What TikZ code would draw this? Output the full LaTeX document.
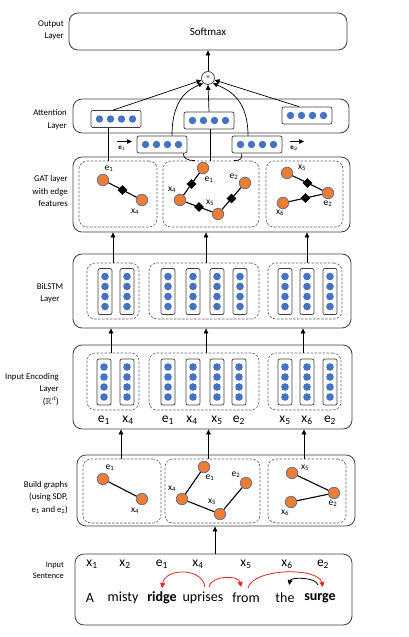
\documentclass[tikz,border=0pt]{standalone}
\usepackage{fontspec}
\setmainfont{Carlito}
\usepackage{amssymb}
\usetikzlibrary{arrows.meta,shapes.geometric,calc}
\definecolor{dotblue}{HTML}{4472C4}
\definecolor{nodeorange}{HTML}{ED7D31}
\definecolor{nodeedge}{HTML}{5B6B9E}
\definecolor{boxline}{HTML}{404040}
\definecolor{arcred}{HTML}{E8241C}
\newcommand{\HVec}[3]{\node[hvec] (#1) at (#2,#3) {};
  \foreach \d in {-16.5,-5.5,5.5,16.5} {\fill[dotc] ($(#1.center)+(\d,0)$) circle (3.7pt);}}
\newcommand{\VVec}[3]{\node[vvec] (#1) at (#2,#3) {};
  \foreach \d in {-15,-5,5,15} {\fill[dotc] ($(#1.center)+(0,\d)$) circle (3.8pt);}}
\begin{document}
\begin{tikzpicture}[x=1pt,y=-1pt,
  layerbox/.style={draw=boxline, line width=0.8pt, rounded corners=9pt, inner sep=0},
  dashbox/.style={draw=boxline!85, line width=0.6pt, rounded corners=8pt, dash pattern=on 2.5pt off 1.5pt, inner sep=0},
  hvec/.style={draw=boxline, line width=0.7pt, rounded corners=2pt, minimum width=50pt, minimum height=17pt, inner sep=0},
  vvec/.style={draw=boxline, line width=0.7pt, rounded corners=2pt, minimum width=14pt, minimum height=46pt, inner sep=0},
  dotc/.style={fill=dotblue},
  gnode/.style={circle, fill=nodeorange, draw=nodeedge, line width=0.7pt, minimum size=11.5pt, inner sep=0},
  efeat/.style={diamond, fill=black, minimum size=10pt, inner sep=0},
  gedge/.style={line width=1.1pt},
  arr/.style={-{Triangle[length=5pt,width=4.5pt]}, line width=0.7pt},
  plain/.style={line width=0.7pt},
  lbl/.style={font=\fontsize{8.8}{12.5}\selectfont, align=right, anchor=east, inner sep=0},
  glbl/.style={font=\fontsize{9.5}{11}\selectfont, inner sep=0},
  toklbl/.style={font=\fontsize{13.5}{15}\selectfont, inner sep=0},
  wordlbl/.style={font=\fontsize{14}{16}\selectfont, inner sep=0},
  redarc/.style={draw=arcred, line width=0.8pt, -{Triangle[length=5pt,width=5pt]}},
  blackarc/.style={draw=black, line width=0.8pt, -{Triangle[length=5pt,width=5pt]}}
]
\useasboundingbox (0,0) rectangle (408,637);

% ---------- left labels ----------
\node[lbl] (lout) at (64,30.5) {Output\\Layer};
\node[lbl] (latt) at (67,119.5) {Attention\\Layer};
\node[lbl] (lgat) at (68,191) {GAT layer\\with edge\\features};
\node[lbl, anchor=center, align=center] (lbil) at (50,293) {BiLSTM\\Layer};
\node[lbl] (lenc) at (59,389.5) {Input Encoding\\Layer\\($\mathbb{R}^d$)};
\node[lbl] (lbuild) at (68,497.5) {Build graphs\\(using SDP,\\e\textsubscript{1} and e\textsubscript{2})};
\node[lbl, font=\fontsize{8.3}{11}\selectfont] (lsent) at (64,570.5) {Input\\Sentence};

% ---------- output layer ----------
\node[layerbox, minimum width=278pt, minimum height=37pt, font=\fontsize{11}{13}\selectfont] (out) at (208,31.5) {Softmax};
\node[circle, draw=boxline, line width=0.7pt, minimum size=13pt, inner sep=0, font=\fontsize{7}{8}\selectfont] (plus) at (208,78) {+};
\draw[arr] (plus.north) -- (plus.north |- out.south);

% ---------- attention layer ----------
\node[layerbox, minimum width=276pt, minimum height=34pt] (att) at (211,116) {};
\HVec{a1}{116}{119}
\HVec{a2}{209}{120.5}
\HVec{a3}{307}{115.5}
\HVec{b1}{162}{144.5}
\HVec{b2}{257}{144.5}
\node[inner sep=0, font=\fontsize{7}{8}\selectfont] (arl1) at (122,148.5) {$\mathbf{e}_1$};
\node[inner sep=0, font=\fontsize{7}{8}\selectfont] (arl2) at (294,148.5) {$\mathbf{e}_2$};
\draw[arr, line width=0.6pt] ($(arl1)+(-5,-7)$) -- ($(arl1)+(10,-7)$);
\draw[arr, line width=0.6pt] ($(arl2)+(-4,-7)$) -- ($(arl2)+(10,-7)$);

\draw[arr] ([xshift=-3pt]a1.north) -- (plus);
\draw[arr] (a2.north) -- (plus.south);
\draw[arr] ([xshift=-8pt]a3.north) -- (plus);
\draw[arr] ([xshift=10pt]b1.north) .. controls +(0,-40) and +(-12,6) .. (plus.225);
\draw[arr] ([xshift=-9pt]b2.north) .. controls +(0,-40) and +(12,6) .. (plus.315);

% ---------- GAT layer ----------
\node[layerbox, minimum width=277pt, minimum height=75pt] (gat) at (211.5,194.5) {};
\node[dashbox, minimum width=78pt, minimum height=66pt] (gd1) at (118,194) {};
\node[dashbox, minimum width=96pt, minimum height=66pt] (gd2) at (211,194) {};
\node[dashbox, minimum width=77pt, minimum height=66pt] (gd3) at (304.5,194) {};

\draw[plain] ([xshift=-8pt]a1.south) -- ([xshift=-8pt]a1.south |- gd1.north);
\draw[plain] ([xshift=1pt]a2.south) -- ([xshift=1pt]a2.south |- gd2.north);
\coordinate (c1) at (195,160.5);
\coordinate (c2) at (234,160.5);
\draw[plain] ([xshift=-4pt]b1.south east) .. controls +(0,5) and +(-8,0) .. (c1);
\draw[plain] ([xshift=10pt]b2.south west) .. controls +(0,5) and +(8,0) .. (c2);

\node[gnode] (ge1) at (103,180) {};
\node[gnode] (gx4) at (142,200) {};
\node[gnode] (ge1b) at (203,168) {};
\node[gnode] (gx4b) at (180,200) {};
\node[gnode] (gx5b) at (218,214) {};
\node[gnode] (ge2b) at (245,183) {};
\node[gnode] (gx5c) at (287,173) {};
\node[gnode] (gx6c) at (283,203) {};
\node[gnode] (ge2c) at (328,193) {};
\draw[gedge] (ge1) -- (gx4) node[efeat, midway] (gf1) {};
\draw[gedge] (gx4b) -- (ge1b) node[efeat, midway] (gf2) {};
\draw[gedge] (gx4b) -- (gx5b) node[efeat, midway] (gf3) {};
\draw[gedge] (gx5b) -- (ge2b) node[efeat, midway] (gf4) {};
\draw[gedge] (gx5c) -- (ge2c) node[efeat, midway] (gf5) {};
\draw[gedge] (gx6c) -- (ge2c) node[efeat, midway] (gf6) {};
\node[glbl] (tge1) at (109,169) {e\textsubscript{1}};
\node[glbl] (tgx4) at (135,212) {x\textsubscript{4}};
\node[glbl] (tge1b) at (209,180) {e\textsubscript{1}};
\node[glbl] (tge2b) at (234,177) {e\textsubscript{2}};
\node[glbl] (tgx4b) at (172,190) {x\textsubscript{4}};
\node[glbl] (tgx5b) at (210,203) {x\textsubscript{5}};
\node[glbl] (tgx5c) at (302,168) {x\textsubscript{5}};
\node[glbl] (tge2c) at (328,204) {e\textsubscript{2}};
\node[glbl] (tgx6c) at (280,213) {x\textsubscript{6}};

% ---------- BiLSTM layer ----------
\node[layerbox, minimum width=278pt, minimum height=74pt] (bil) at (212,291) {};
\node[dashbox, minimum width=52pt, minimum height=56pt] (bd1) at (113,291) {};
\node[dashbox, minimum width=110pt, minimum height=56pt] (bd2) at (204,291) {};
\node[dashbox, minimum width=74pt, minimum height=56pt] (bd3) at (305,291) {};
\VVec{bv1}{105}{291.5}
\VVec{bv2}{127}{291.5}
\VVec{bv3}{168}{291.5}
\VVec{bv4}{193}{291.5}
\VVec{bv5}{217}{291.5}
\VVec{bv6}{240}{291.5}
\VVec{bv7}{285}{291.5}
\VVec{bv8}{307}{291.5}
\VVec{bv9}{330}{291.5}
\draw[arr] (bd1.north) -- (bd1.north |- gat.south);
\draw[arr] ([xshift=2pt]bd2.north) -- ([xshift=2pt]bd2.north |- gat.south);
\draw[arr] ([xshift=2pt]bd3.north) -- ([xshift=2pt]bd3.north |- gat.south);

% ---------- input encoding layer ----------
\node[layerbox, minimum width=279pt, minimum height=84pt] (enc) at (212.5,387) {};
\node[dashbox, minimum width=52pt, minimum height=57pt] (ed1) at (113,381.5) {};
\node[dashbox, minimum width=110pt, minimum height=57pt] (ed2) at (204,381.5) {};
\node[dashbox, minimum width=73pt, minimum height=57pt] (ed3) at (304.5,381.5) {};
\VVec{ev1}{104}{382}
\VVec{ev2}{127}{382}
\VVec{ev3}{168}{382}
\VVec{ev4}{193}{382}
\VVec{ev5}{217}{382}
\VVec{ev6}{239}{382}
\VVec{ev7}{285}{382}
\VVec{ev8}{307}{382}
\VVec{ev9}{330}{382}
\node[toklbl] (te1) at (104,420) {e\textsubscript{1}};
\node[toklbl] (tx4) at (128,420) {x\textsubscript{4}};
\node[toklbl] (te1b) at (168,420) {e\textsubscript{1}};
\node[toklbl] (tx4b) at (192,420) {x\textsubscript{4}};
\node[toklbl] (tx5b) at (217,420) {x\textsubscript{5}};
\node[toklbl] (te2b) at (239,420) {e\textsubscript{2}};
\node[toklbl] (tx5c) at (285,420) {x\textsubscript{5}};
\node[toklbl] (tx6c) at (307,420) {x\textsubscript{6}};
\node[toklbl] (te2c) at (330,420) {e\textsubscript{2}};
\draw[arr] ([xshift=-2pt]ed1.north) -- ([xshift=-2pt]ed1.north |- bil.south);
\draw[arr] ([xshift=2pt]ed2.north) -- ([xshift=2pt]ed2.north |- bil.south);
\draw[arr] ([xshift=-1.5pt]ed3.north) -- ([xshift=-1.5pt]ed3.north |- bil.south);

% ---------- build graphs ----------
\node[layerbox, minimum width=278pt, minimum height=71pt] (build) at (216,490.5) {};
\node[dashbox, minimum width=78pt, minimum height=64pt] (gb1) at (122,491) {};
\node[dashbox, minimum width=95pt, minimum height=64pt] (gb2) at (212.5,491) {};
\node[dashbox, minimum width=78pt, minimum height=64pt] (gb3) at (307,491) {};
\node[gnode] (be1) at (103,479) {};
\node[gnode] (bx4) at (142,499) {};
\node[gnode] (be1b) at (204,467) {};
\node[gnode] (bx4b) at (182,499) {};
\node[gnode] (bx5b) at (220,514) {};
\node[gnode] (be2b) at (246,483) {};
\node[gnode] (bx5c) at (292,473) {};
\node[gnode] (bx6c) at (291,502) {};
\node[gnode] (be2c) at (334,493) {};
\draw[gedge] (be1) -- (bx4);
\draw[gedge] (bx4b) -- (be1b);
\draw[gedge] (bx4b) -- (bx5b);
\draw[gedge] (bx5b) -- (be2b);
\draw[gedge] (bx5c) -- (be2c);
\draw[gedge] (bx6c) -- (be2c);
\node[glbl] (tbe1) at (110,468) {e\textsubscript{1}};
\node[glbl] (tbx4) at (135,511) {x\textsubscript{4}};
\node[glbl] (tbe1b) at (210,478) {e\textsubscript{1}};
\node[glbl] (tbe2b) at (236,475) {e\textsubscript{2}};
\node[glbl] (tbx4b) at (172,489) {x\textsubscript{4}};
\node[glbl] (tbx5b) at (212,502) {x\textsubscript{5}};
\node[glbl] (tbx5c) at (305,468) {x\textsubscript{5}};
\node[glbl] (tbe2c) at (333,504) {e\textsubscript{2}};
\node[glbl] (tbx6c) at (285,513) {x\textsubscript{6}};
\draw[arr] ([xshift=-1pt]gb1.north) -- ([xshift=-1pt]gb1.north |- enc.south);
\draw[arr] ([xshift=-4pt]gb2.north) -- ([xshift=-4pt]gb2.north |- enc.south);
\draw[arr] ([xshift=-3pt]gb3.north) -- ([xshift=-3pt]gb3.north |- enc.south);

% ---------- input sentence ----------
\node[layerbox, minimum width=277pt, minimum height=71pt] (sent) at (213.5,589.5) {};
\draw[arr] ([xshift=1.5pt]sent.north) -- ([xshift=1.5pt]sent.north |- build.south);
\node[toklbl] (sx1) at (92,564) {x\textsubscript{1}};
\node[toklbl] (sx2) at (125,564) {x\textsubscript{2}};
\node[toklbl] (se1) at (162,564) {e\textsubscript{1}};
\node[toklbl] (sx4) at (198,564) {x\textsubscript{4}};
\node[toklbl] (sx5) at (246,564) {x\textsubscript{5}};
\node[toklbl] (sx6) at (287,564) {x\textsubscript{6}};
\node[toklbl] (se2) at (323,564) {e\textsubscript{2}};
\node[wordlbl] (wA) at (90,598) {A};
\node[wordlbl] (wmisty) at (123,598) {misty};
\node[wordlbl] (wridge) at (162,598) {\textbf{ridge}};
\node[wordlbl] (wupr) at (203,598) {uprises};
\node[wordlbl] (wfrom) at (246,598) {from};
\node[wordlbl] (wthe) at (285,598) {the};
\node[wordlbl] (wsurge) at (320,598) {\textbf{surge}};
\draw[redarc] ($(wupr.center)+(2,-11)$) .. controls +(-3,-20) and +(3,-20) .. ($(wridge.center)+(0,-10)$);
\draw[redarc] ($(wupr.center)+(6,-11)$) .. controls +(2,-12) and +(-2,-12) .. ($(wfrom.center)+(-5,-11)$);
\draw[redarc] ($(wfrom.center)+(2,-10)$) .. controls +(5,-20) and +(-5,-20) .. ($(wsurge.center)+(3,-11)$);
\draw[blackarc] ($(wsurge.center)+(-2,-13)$) .. controls +(-2,-8) and +(2,-8) .. ($(wthe.center)+(4,-13)$);
\end{tikzpicture}
\end{document}
